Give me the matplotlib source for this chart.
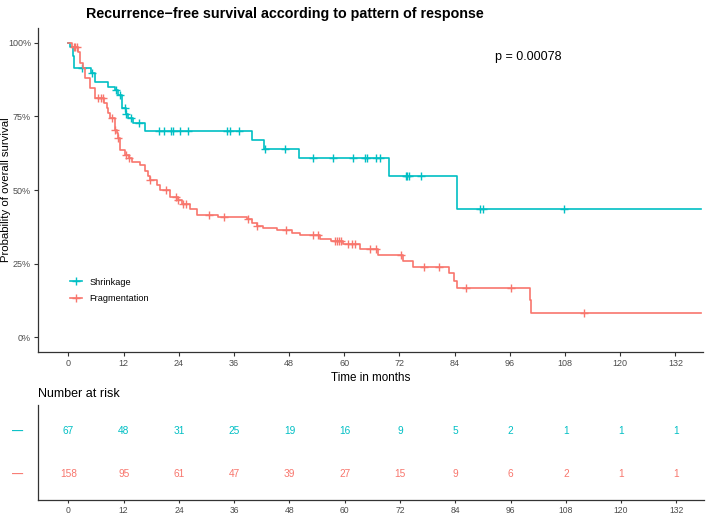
import numpy as np
import matplotlib
matplotlib.use("Agg")
import matplotlib.pyplot as plt

plt.rcParams['font.family'] = ['Liberation Sans', 'DejaVu Sans']

RED = "#F8766D"
CYAN = "#00BFC4"
GREY = "#4D4D4D"

# Krzywe Kaplana-Meiera (czas w miesiącach, przeżycie)
shrink_times = [0, 0.3, 1.0, 1.3, 5.0, 5.9, 8.6, 10.2, 10.9, 11.7, 12.6, 13.0, 14.0,
                16.7, 40.0, 42.6, 50.1, 69.7, 84.5, 137.5]
shrink_surv = [1.0, 0.985, 0.955, 0.913, 0.898, 0.866, 0.850, 0.839, 0.822, 0.777, 0.759,
               0.743, 0.726, 0.700, 0.671, 0.638, 0.607, 0.547, 0.435, 0.435]
shrink_censor = [3.0, 5.1, 10.4, 11.3, 12.3, 12.6, 13.6, 15.3, 19.8, 20.7, 22.4, 22.8, 24.3,
                 26.1, 34.4, 35.2, 37.2, 42.8, 47.1, 53.3, 57.5, 62.0, 64.5, 64.9, 67.0,
                 67.7, 73.4, 73.7, 74.1, 76.6, 89.6, 90.1, 107.7]

frag_times = [0, 0.8, 2.2, 2.6, 3.1, 3.7, 4.8, 5.7, 7.7, 8.3, 8.7, 9.1, 10.2, 10.6, 10.9,
              11.3, 12.4, 13.1, 13.8, 15.6, 16.7, 17.4, 17.7, 19.2, 20.0, 22.1, 23.9, 24.7,
              26.5, 27.9, 32.6, 38.8, 39.9, 41.0, 42.4, 45.3, 48.6, 50.4, 54.7, 57.2, 59.8,
              63.4, 67.4, 72.8, 75.0, 82.7, 83.9, 84.5, 100.3, 100.6, 137.5]
frag_surv = [1.0, 0.986, 0.969, 0.930, 0.913, 0.879, 0.845, 0.811, 0.795, 0.778, 0.760,
             0.743, 0.703, 0.692, 0.677, 0.635, 0.618, 0.607, 0.595, 0.584, 0.565, 0.547,
             0.533, 0.516, 0.499, 0.476, 0.467, 0.454, 0.437, 0.416, 0.410, 0.400, 0.388,
             0.378, 0.372, 0.363, 0.355, 0.346, 0.335, 0.327, 0.318, 0.298, 0.280, 0.260,
             0.240, 0.217, 0.192, 0.168, 0.125, 0.083, 0.083]
frag_censor = [1.2, 1.5, 1.9, 6.5, 7.0, 7.6, 9.5, 10.2, 10.9, 12.6, 13.1, 17.7, 21.3, 23.4,
               23.9, 25.0, 25.5, 30.5, 33.9, 39.1, 41.0, 47.3, 53.3, 54.3, 58.0, 58.4, 58.8,
               59.3, 60.8, 61.6, 62.3, 65.6, 67.0, 72.3, 77.4, 80.5, 86.5, 96.3, 112.1]

# Tabela liczby pacjentów w ryzyku
risk_ticks = [0, 12, 24, 36, 48, 60, 72, 84, 96, 108, 120, 132]
shrink_risk = [67, 48, 31, 25, 19, 16, 9, 5, 2, 1, 1, 1]
frag_risk = [158, 95, 61, 47, 39, 27, 15, 9, 6, 2, 1, 1]


def surv_at(times, surv, t):
    idx = np.searchsorted(times, t, side='right') - 1
    return np.array(surv)[idx]


def style_axes(a):
    a.spines['top'].set_visible(False)
    a.spines['right'].set_visible(False)
    for s in ['left', 'bottom']:
        a.spines[s].set_linewidth(0.9)
        a.spines[s].set_color("#333333")


fig = plt.figure(figsize=(7.09, 5.16), dpi=100)

ax = fig.add_axes([38 / 709, 1 - 352 / 516, 665 / 709, 324 / 516])
for times, surv, cens, col, lab in [(shrink_times, shrink_surv, shrink_censor, CYAN, "Shrinkage"),
                                    (frag_times, frag_surv, frag_censor, RED, "Fragmentation")]:
    ax.step(times, surv, where='post', color=col, lw=1.2)
    ax.plot(cens, surv_at(times, surv, cens), '+', color=col, ms=6, mew=1.0)
    ax.plot([], [], color=col, lw=1.2, marker='+', ms=6, mew=1.0, label=lab)

ax.set_xlim(-6.6, 138)
ax.set_ylim(-0.05, 1.05)
ax.set_xticks(risk_ticks)
ax.set_yticks([0, 0.25, 0.5, 0.75, 1.0])
ax.set_yticklabels(["0%", "25%", "50%", "75%", "100%"])
style_axes(ax)
ax.tick_params(labelsize=6.5, colors="#333333", labelcolor=GREY, length=3, width=0.8, pad=2)
ax.set_xlabel("Time in months", fontsize=8.4, labelpad=3)
ax.set_ylabel("Probability of overall survival", fontsize=8.2)
ax.yaxis.set_label_coords(-0.040, 0.5)
ax.text(100, 0.95, "p = 0.00078", fontsize=9, ha='center', va='center')
ax.legend(loc='center left', bbox_to_anchor=(0.035, 0.19), frameon=False, fontsize=6.6,
          handlelength=1.4, labelspacing=0.85, handletextpad=0.8)

fig.text(86 / 709, 1 - 14 / 516, "Recurrence\u2212free survival according to pattern of response",
         fontsize=10.3, fontweight='bold', ha='left', va='center')

# Tabela ryzyka
axr = fig.add_axes([38 / 709, 1 - 500 / 516, 666 / 709, 95 / 516])
axr.set_xlim(-6.6, 138)
axr.set_ylim(0.4, 2.6)
for x, a, b in zip(risk_ticks, shrink_risk, frag_risk):
    axr.text(x, 2, str(a), color=CYAN, fontsize=7.3, ha='center', va='center')
    axr.text(x, 1, str(b), color=RED, fontsize=7.3, ha='center', va='center')
axr.set_xticks(risk_ticks)
axr.set_yticks([1, 2])
axr.set_yticklabels(["\u2014", "\u2014"], fontsize=8, fontweight='bold')
axr.get_yticklabels()[0].set_color(RED)
axr.get_yticklabels()[1].set_color(CYAN)
axr.tick_params(axis='y', length=0, pad=11)
axr.tick_params(axis='x', labelsize=6.2, colors="#333333", labelcolor=GREY, length=2.5,
                width=0.8, pad=1.5)
style_axes(axr)
axr.set_title("Number at risk", loc='left', fontsize=9, pad=6)

fig.savefig("out.png", dpi=100)
